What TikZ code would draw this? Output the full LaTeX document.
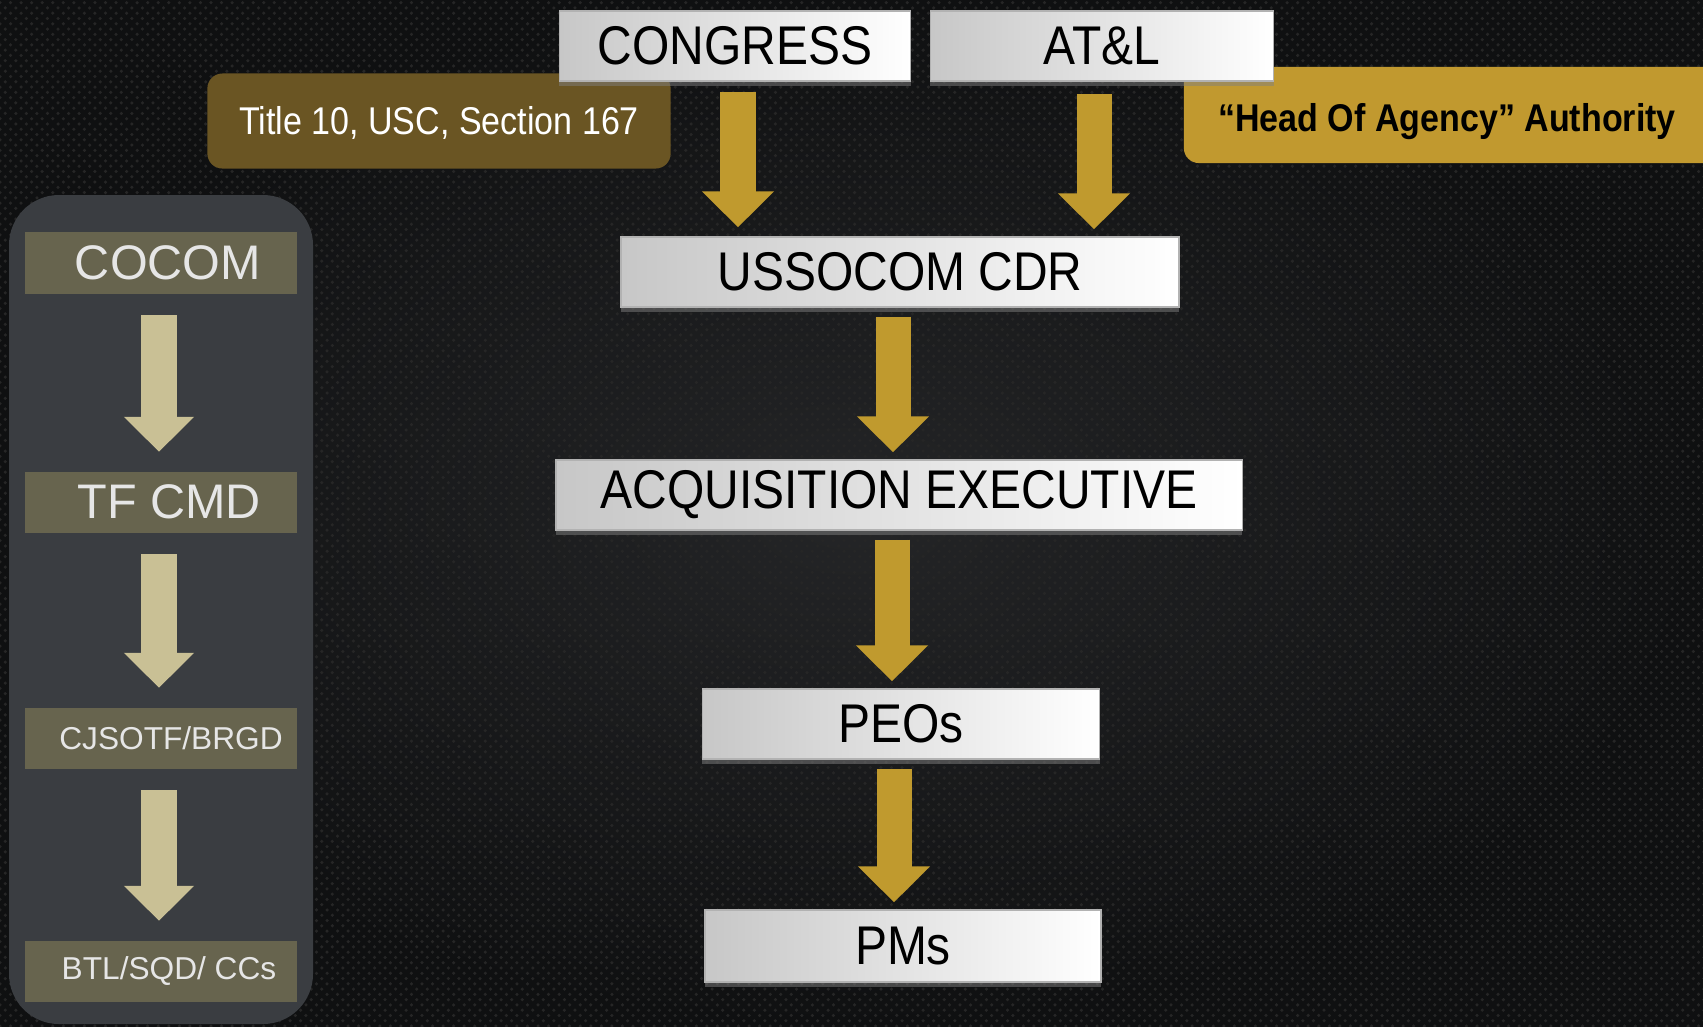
\documentclass[tikz,border=0pt]{standalone}
\usepackage{fontspec}
\setmainfont{Liberation Sans}
\newfontfamily\boxfont{Liberation Sans}[FakeStretch=0.88]
\usetikzlibrary{arrows.meta,calc,shadows,patterns}

\definecolor{bgdark}{HTML}{0F1011}
\definecolor{bgmid}{HTML}{242527}
\definecolor{goldarr}{HTML}{C09A2E}
\definecolor{headgold}{HTML}{C1992F}
\definecolor{titlegold}{HTML}{6A5523}
\definecolor{sidepanel}{HTML}{3A3D41}
\definecolor{olivebox}{HTML}{67644E}
\definecolor{sidearr}{HTML}{C9C095}
\definecolor{sidetext}{HTML}{E6E6E6}

\tikzset{
	govbox/.style={draw=gray!60, left color=black!22, right color=white, minimum height=0.7cm, inner sep=0pt,
		font=\boxfont\fontsize{15.5}{18}\selectfont, drop shadow={opacity=0.5, shadow xshift=0pt, shadow yshift=-1.5pt}},
	sidebox/.style={fill=olivebox, minimum width=2.71cm, minimum height=0.61cm, inner sep=0pt, text=sidetext},
	notebox/.style={rounded corners=0.15cm, minimum height=0.95cm, inner sep=0pt, text depth=0pt, font=\boxfont\fontsize{11}{13}\selectfont},
	goldarrow/.style={line width=0.35cm, draw=goldarr, -{Triangle[width=0.7cm,length=0.36cm]}},
	sidearrow/.style={line width=0.35cm, draw=sidearr, -{Triangle[width=0.68cm,length=0.35cm]}},
}

\begin{document}
\begin{tikzpicture}[x=0.01cm, y=-0.01cm]
	%background
	\useasboundingbox (0,0) rectangle (1703,1026);
	\clip (0,0) rectangle (1703,1026);
	\shade[inner color=bgmid, outer color=bgdark] (0,0) rectangle (1703,1026);
	\fill[pattern=crosshatch dots, pattern color=black!85] (0,0) rectangle (1703,1026);

	%left column
	\fill[sidepanel, rounded corners=0.5cm] (9,195) rectangle (313,1024);
	\node (cocom) at (161,263) [sidebox, font=\fontsize{13.8}{16}\selectfont]{\hspace{0.14cm}COCOM};
	\node (tfcmd) at (161,502) [sidebox, font=\fontsize{13.8}{16}\selectfont]{\hspace{0.16cm}TF CMD};
	\node (cjsotf) at (161,738) [sidebox, font=\fontsize{9}{11}\selectfont]{\hspace{0.2cm}CJSOTF/BRGD};
	\node (btl) at (161,971) [sidebox, font=\fontsize{9}{11}\selectfont]{\hspace{0.16cm}BTL/SQD/ CCs};
	\foreach \a/\b in {cocom/tfcmd, tfcmd/cjsotf, cjsotf/btl}{
		\draw[sidearrow] ($(\a.south)+(-2,21)$) -- ($(\b.north)+(-2,-19)$);
	}

	%notes
	\node (title) at (439,121) [notebox, fill=titlegold, minimum width=4.63cm, text=white, text height=0.27cm]{Title 10, USC, Section 167};
	\node (head) at (1452,115) [notebox, fill=headgold, minimum width=5.36cm, minimum height=0.96cm, text height=0.33cm]{\hspace{-0.1cm}\bfseries “Head Of Agency” Authority};

	%chain
	\node (cong) at (735,46) [govbox, minimum width=3.51cm]{CONGRESS};
	\node (atl) at (1102,46) [govbox, minimum width=3.43cm]{AT\&L};
	\node (cdr) at (900,272) [govbox, minimum width=5.58cm]{USSOCOM CDR};
	\node (acq) at (899,495) [govbox, minimum width=6.86cm]{ACQUISITION EXECUTIVE};
	\node (peo) at (901,724) [govbox, minimum width=3.97cm]{PEOs};
	\node (pms) at (903,946) [govbox, minimum width=3.96cm, minimum height=0.72cm]{PMs};

	\draw[goldarrow] ($(cong.south)+(3,10)$) -- ($(cong.south |- cdr.north)+(3,-9)$);
	\draw[goldarrow] ($(atl.south)+(-8,12)$) -- ($(atl.south |- cdr.north)+(-8,-7)$);
	\foreach \a/\b in {cdr/acq, acq/peo, peo/pms}{
		\draw[goldarrow] ($(\a.south)+(-7,9)$) -- ($(\a.south |- \b.north)+(-7,-7)$);
	}
\end{tikzpicture}
\end{document}
